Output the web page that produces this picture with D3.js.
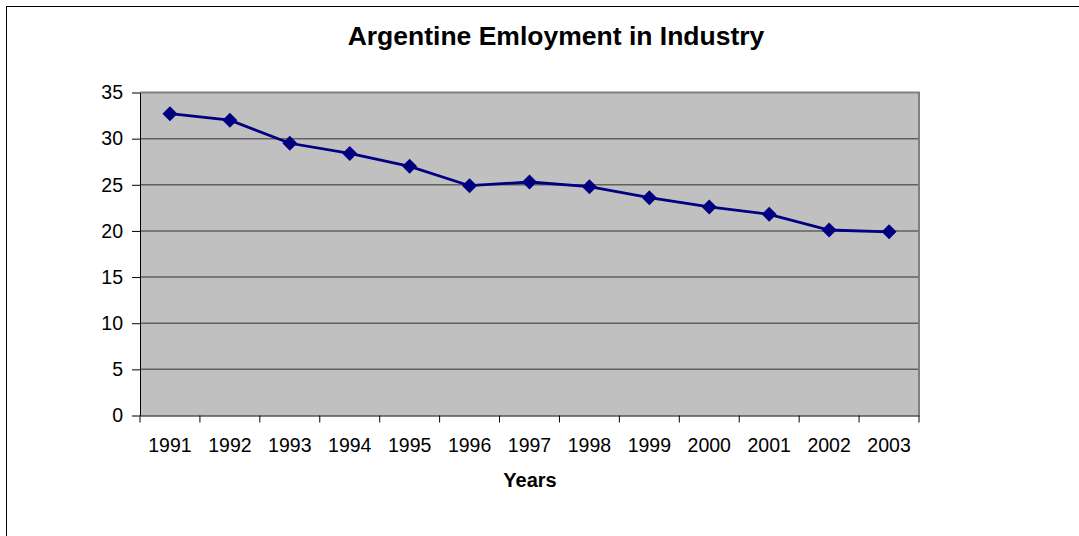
<!DOCTYPE html>
<html><head><meta charset="utf-8">
<script src="https://cdn.jsdelivr.net/npm/d3@7"></script>
<style>body{margin:0;background:#fff;}svg{display:block;font-family:"Liberation Sans",Arial,sans-serif;}</style>
</head><body>
<svg id="c" width="1079" height="536"></svg>
<script>
const years = ["1991","1992","1993","1994","1995","1996","1997","1998","1999","2000","2001","2002","2003"];
const employment = [32.7, 32.0, 29.5, 28.4, 27.0, 24.9, 25.3, 24.8, 23.6, 22.6, 21.8, 20.1, 19.9];
const yTicks = [0, 5, 10, 15, 20, 25, 30, 35];

const svg = d3.select("#c");
const m = {l: 140, r: 919, t: 92.5, b: 415.5};
const FONT = "Liberation Sans, Arial, sans-serif";

// outer frame
svg.append("rect").attr("x", 6.5).attr("y", 6.5).attr("width", 1100).attr("height", 600)
  .attr("fill", "#fff").attr("stroke", "#000").attr("stroke-width", 1);

const x = d3.scaleBand().domain(years).range([m.l, m.r]);
const y = d3.scaleLinear().domain([0, 35]).range([m.b, m.t]);

// plot background
svg.append("rect").attr("x", m.l).attr("y", m.t).attr("width", m.r - m.l).attr("height", m.b - m.t)
  .attr("fill", "#c0c0c0");

// gridlines
svg.append("g").selectAll("line").data(yTicks.filter(d => d > 0 && d < 35)).join("line")
  .attr("x1", m.l).attr("x2", m.r).attr("y1", d => y(d)).attr("y2", d => y(d))
  .attr("stroke", "#606060").attr("stroke-width", 1.5);

// plot border top/right
svg.append("path").attr("d", `M${m.l},${m.t}H${m.r}V${m.b}`)
  .attr("fill", "none").attr("stroke", "#808080").attr("stroke-width", 2);

// y axis
const yAxis = d3.axisLeft(y).tickValues(yTicks).tickSize(8).tickPadding(9).tickSizeOuter(0);
const gy = svg.append("g").attr("transform", `translate(${m.l},0)`).call(yAxis);
gy.select(".domain").attr("stroke", "#000");
gy.selectAll(".tick line").attr("stroke", "#000");
gy.selectAll("text").attr("font-size", 19.5).attr("fill", "#000").attr("font-family", FONT);

// x axis
const xAxis = d3.axisBottom(x).tickSize(0).tickPadding(23).tickSizeOuter(0);
const gx = svg.append("g").attr("transform", `translate(0,${m.b})`).call(xAxis);
gx.select(".domain").attr("stroke", "#000");
gx.selectAll("text").attr("font-size", 19.5).attr("fill", "#000").attr("font-family", FONT);
// boundary ticks
const bounds = years.map(d => x(d)).concat([m.r]);
svg.append("g").selectAll("line").data(bounds).join("line")
  .attr("x1", d => d).attr("x2", d => d).attr("y1", m.b).attr("y2", m.b + 7)
  .attr("stroke", "#000").attr("stroke-width", 1);

// line
const cx = d => x(d) + x.bandwidth() / 2;
svg.append("path").datum(years.map((d, i) => [cx(d), y(employment[i])]))
  .attr("d", d3.line()).attr("fill", "none").attr("stroke", "#000080").attr("stroke-width", 2.8);

// markers
svg.append("g").selectAll("path").data(years).join("path")
  .attr("transform", (d, i) => `translate(${cx(d)},${y(employment[i])})`)
  .attr("d", "M0,-7.5L7.5,0L0,7.5L-7.5,0Z").attr("fill", "#000080");

// titles
svg.append("text").attr("x", 556).attr("y", 45).attr("text-anchor", "middle")
  .attr("font-size", 26.5).attr("font-weight", "bold").text("Argentine Emloyment in Industry");
svg.append("text").attr("x", 530).attr("y", 487).attr("text-anchor", "middle")
  .attr("font-size", 20).attr("font-weight", "bold").text("Years");
</script>
</body></html>
